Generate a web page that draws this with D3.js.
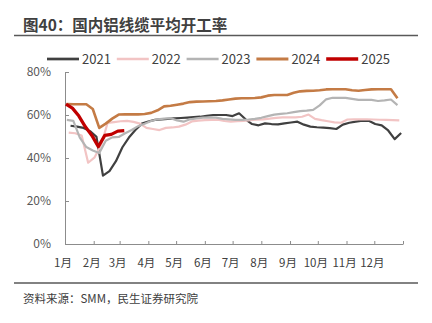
<!DOCTYPE html>
<html>
<head>
<meta charset="utf-8">
<script src="https://cdn.jsdelivr.net/npm/d3@7"></script>
<style>
  body { margin: 0; background: #fff; }
  svg { display: block; font-family: "Noto Sans CJK SC", "Noto Sans", sans-serif; }
</style>
</head>
<body>
<div id="chart"></div>
<script>
// weekly operating rate (%) of domestic aluminium cable makers
var years = ["2021", "2022", "2023", "2024", "2025"];
var startDates = ["2021-01-07", "2022-01-05", "2023-01-03", "2024-01-03", "2025-01-02"];

var rate2021 = [55.0, 54.6, 54.0, 52.5, 49.8, 31.8, 33.9, 38.5, 45.0, 49.5, 53.0, 56.0, 57.0,
    57.7, 58.0, 58.2, 58.4, 58.6, 58.8, 59.0, 59.2, 59.6, 60.0, 60.0, 60.0, 59.5, 60.8,
    58.0, 55.8, 55.2, 56.1, 55.8, 55.6, 56.1, 56.5, 56.9, 55.5, 54.6, 54.3, 54.1, 53.9,
    53.5, 55.5, 56.4, 56.9, 57.4, 57.3, 55.8, 55.2, 52.8, 48.8, 51.6];
var rate2022 = [51.8, 51.5, 50.5, 37.8, 40.3, 46.0, 56.3, 56.7, 57.1, 57.3, 56.8, 56.0, 54.0,
    53.5, 53.0, 54.0, 54.2, 54.6, 55.5, 57.0, 57.4, 57.6, 57.7, 57.8, 57.2, 56.9, 57.1,
    57.3, 57.6, 57.8, 58.0, 58.3, 58.7, 58.9, 58.9, 58.9, 59.2, 60.2, 58.2, 57.6, 57.1,
    56.6, 56.4, 57.9, 58.0, 58.0, 58.0, 57.9, 57.8, 57.7, 57.6, 57.5];
var rate2023 = [57.7, 57.3, 49.5, 45.1, 43.5, 42.3, 48.0, 49.6, 49.8, 51.5, 53.0, 54.8, 55.9,
    57.2, 58.0, 58.3, 58.5, 57.5, 56.9, 58.0, 58.4, 58.8, 58.9, 58.8, 58.2, 58.0, 57.7,
    57.7, 57.9, 58.2, 58.7, 59.5, 60.2, 60.5, 60.8, 61.3, 61.8, 62.0, 62.4, 64.5, 67.3,
    68.0, 68.0, 68.0, 67.5, 67.0, 67.0, 67.0, 66.5, 66.8, 67.2, 64.6];
var rate2024 = [65.1, 65.0, 65.0, 65.0, 62.8, 54.0, 56.0, 58.3, 60.2, 60.3, 60.3, 60.3, 60.5,
    61.0, 62.2, 64.0, 64.3, 64.8, 65.3, 66.0, 66.2, 66.3, 66.4, 66.5, 66.8, 67.2, 67.6,
    67.8, 67.8, 67.9, 68.2, 69.0, 69.3, 69.3, 69.3, 70.3, 71.0, 71.2, 71.3, 71.5, 71.9,
    72.0, 72.0, 72.0, 71.5, 71.3, 71.6, 71.9, 72.0, 72.0, 72.0, 67.8];
var rate2025 = [65.1, 63.2, 59.5, 54.5, 50.5, 45.3, 50.5, 51.0, 52.5, 52.7];

var seriesValues = [rate2021, rate2022, rate2023, rate2024, rate2025];
var colors = ["#404040", "#f2c4c4", "#b4b4b4", "#c47b45", "#c00000"];
var widths = [2.2, 2.2, 2.2, 2.6, 3.2];

var monthLabels = ["1月", "2月", "3月", "4月", "5月", "6月", "7月", "8月", "9月", "10月", "11月", "12月"];
var yTicks = [0, 20, 40, 60, 80];

var width = 432, height = 323;
var svg = d3.select("#chart").append("svg")
    .attr("width", width)
    .attr("height", height);

// header
svg.append("text")
    .attr("x", 23)
    .attr("y", 31)
    .attr("font-size", 15.5)
    .attr("font-weight", "bold")
    .attr("fill", "#404040")
    .text("图40：国内铝线缆平均开工率");
svg.append("line")
    .attr("x1", 14).attr("x2", 418)
    .attr("y1", 35.5).attr("y2", 35.5)
    .attr("stroke", "#595959")
    .attr("stroke-width", 1.5);

// every year is laid on the same calendar, by day of year
var base = new Date(2021, 0, 1);
var x = d3.scaleTime()
    .domain([base, new Date(2022, 0, 1)])
    .range([65, 403]);
var y = d3.scaleLinear()
    .domain([0, 80])
    .range([244, 72]);

var parse = d3.timeParse("%Y-%m-%d");
var series = years.map(function (year, i) {
    var start = parse(startDates[i]);
    var offset = d3.timeDay.count(d3.timeYear.floor(start), start);
    return {
        year: year,
        color: colors[i],
        width: widths[i],
        points: seriesValues[i].map(function (v, k) {
            return { date: d3.timeDay.offset(base, offset + 7 * k), value: v };
        })
    };
});

// y axis
var yAxis = svg.append("g")
    .attr("transform", "translate(65,0)")
    .call(d3.axisRight(y).tickValues(yTicks).tickSize(4).tickFormat(""));
yAxis.select(".domain").attr("stroke", "#8c8c8c");
yAxis.selectAll(".tick line").attr("stroke", "#8c8c8c");
svg.selectAll(".ylabel")
    .data(yTicks)
    .enter().append("text")
    .attr("class", "ylabel")
    .attr("x", 51)
    .attr("y", function (d) { return y(d); })
    .attr("dy", "0.35em")
    .attr("text-anchor", "end")
    .attr("font-size", 12)
    .attr("fill", "#595959")
    .text(function (d) { return d + "%"; });

// x axis with month boundaries
var monthStarts = d3.timeMonth.range(base, new Date(2022, 0, 2));
var xAxis = svg.append("g")
    .attr("transform", "translate(0,244)")
    .call(d3.axisTop(x).tickValues(monthStarts).tickSize(3).tickSizeOuter(0).tickFormat(""));
xAxis.select(".domain").attr("stroke", "#8c8c8c");
xAxis.selectAll(".tick line").attr("stroke", "#8c8c8c");
svg.selectAll(".xlabel")
    .data(monthLabels)
    .enter().append("text")
    .attr("class", "xlabel")
    .attr("x", function (d, i) { return x(monthStarts[i]) - 2; })
    .attr("y", 267)
    .attr("text-anchor", "middle")
    .attr("font-size", 11.5)
    .attr("fill", "#404040")
    .text(String);

// lines
var line = d3.line()
    .x(function (d) { return x(d.date); })
    .y(function (d) { return y(d.value); });

svg.selectAll(".series")
    .data(series)
    .enter().append("path")
    .attr("class", "series")
    .attr("fill", "none")
    .attr("stroke", function (d) { return d.color; })
    .attr("stroke-width", function (d) { return d.width; })
    .attr("stroke-linejoin", "round")
    .attr("d", function (d) { return line(d.points); });

// legend
var legend = svg.selectAll(".legend")
    .data(series)
    .enter().append("g")
    .attr("class", "legend")
    .attr("transform", function (d, i) { return "translate(" + (47 + i * 69.8) + ",59)"; });
legend.append("line")
    .attr("x1", 0).attr("x2", 32)
    .attr("stroke", function (d) { return d.color; })
    .attr("stroke-width", function (d) { return d.width + 0.5; });
legend.append("text")
    .attr("x", 35)
    .attr("dy", "0.36em")
    .attr("font-size", 13)
    .attr("fill", "#404040")
    .text(function (d) { return d.year; });

// footer
svg.append("line")
    .attr("x1", 14).attr("x2", 418)
    .attr("y1", 283).attr("y2", 283)
    .attr("stroke", "#595959")
    .attr("stroke-width", 1.5);
svg.append("text")
    .attr("x", 23)
    .attr("y", 303)
    .attr("font-size", 11.5)
    .attr("fill", "#404040")
    .text("资料来源：SMM，民生证券研究院");
</script>
</body>
</html>
